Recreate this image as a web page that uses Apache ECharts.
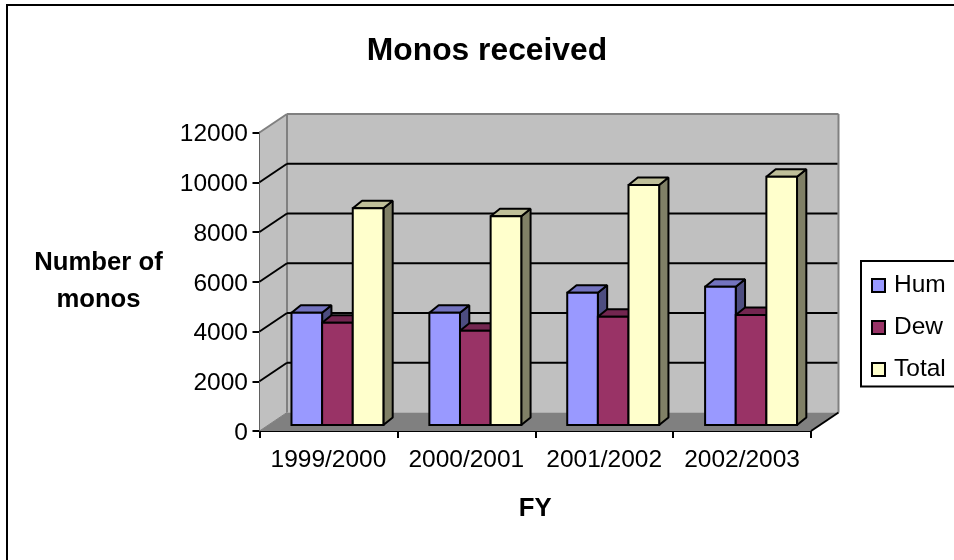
<!DOCTYPE html>
<html>
<head>
<meta charset="utf-8">
<style>html,body{margin:0;padding:0;background:#fff}#c{width:954px;height:560px}</style>
<script src="https://cdn.jsdelivr.net/npm/echarts@6/dist/echarts.min.js"></script>
</head>
<body>
<div id="c"></div>
<script>
const categories = ['1999/2000', '2000/2001', '2001/2002', '2002/2003'];
const hum = [4510, 4510, 5320, 5560];
const dew = [4110, 3790, 4350, 4420];
const total = [8710, 8390, 9650, 9980];
const gridValues = [2000, 4000, 6000, 8000, 10000];
const axisMax = 12000;

const FONT = '"Liberation Sans", Arial, sans-serif';
const WALL = [27.5, -18.5], BASE = [9, -6], DEPTH = [9.3, -7.5];

function wallItem(params, api) {
  const bw = api.size([1, 0], [0, 0])[0];
  const c0 = api.coord([0, 0]), cT = api.coord([0, axisMax]);
  const xl = c0[0] - bw / 2, xr = xl + bw * categories.length, y0 = c0[1], yT = cT[1];
  const dx = WALL[0], dy = WALL[1];
  const poly = (pts, fill, stroke, lw) => ({type: 'polygon', shape: {points: pts},
    style: {fill: fill, stroke: stroke || null, lineWidth: lw || 0}});
  const line = (a, b, col, lw) => ({type: 'line', shape: {x1: a[0], y1: a[1], x2: b[0], y2: b[1]},
    style: {stroke: col, lineWidth: lw}});
  return {type: 'group', children: [
    poly([[xl + dx, yT + dy], [xr + dx, yT + dy], [xr + dx, y0 + dy], [xl + dx, y0 + dy]], '#C0C0C0'),
    poly([[xl, yT], [xl + dx, yT + dy], [xl + dx, y0 + dy], [xl, y0]], '#C0C0C0'),
    poly([[xl, y0], [xr, y0], [xr + dx, y0 + dy], [xl + dx, y0 + dy]], '#808080'),
    line([xl, yT], [xl + dx, yT + dy], '#808080', 2),
    line([xl + dx, yT + dy], [xr + dx, yT + dy], '#808080', 2),
    line([xl + dx, yT + dy], [xl + dx, y0 + dy], '#808080', 2),
    line([xr + dx, yT + dy], [xr + dx, y0 + dy], '#808080', 2),
    line([xl, y0], [xl + dx, y0 + dy], '#808080', 1),
    line([xr, y0], [xr + dx, y0 + dy], '#000', 2)
  ]};
}
function gridItem(params, api) {
  const bw = api.size([1, 0], [0, 0])[0];
  const c = api.coord([0, api.value(1)]);
  const xl = c[0] - bw / 2, xr = xl + bw * categories.length, y = c[1];
  const ln = (x1, y1, x2, y2) => ({type: 'line', shape: {x1, y1, x2, y2}, style: {stroke: '#000', lineWidth: 2}});
  return {type: 'group', children: [
    ln(xl, y, xl + WALL[0], y + WALL[1]),
    ln(xl + WALL[0], y + WALL[1], xr + WALL[0] - 1, y + WALL[1])
  ]};
}
function barItem(slot, colors) {
  return function (params, api) {
    const idx = api.value(0), v = api.value(1);
    const bw = api.size([1, 0], [idx, v])[0], w = bw / 4.5;
    const c = api.coord([idx, 0]), t = api.coord([idx, v]);
    const x = c[0] + BASE[0] + (slot - 1.5) * w, y0 = c[1] + BASE[1], y1 = t[1] + BASE[1];
    const dx = DEPTH[0], dy = DEPTH[1];
    const st = (f, join) => ({fill: f, stroke: '#000', lineWidth: 2, lineJoin: join});
    return {type: 'group', children: [
      {type: 'polygon', shape: {points: [[x + w, y1], [x + w + dx, y1 + dy], [x + w + dx, y0 + dy], [x + w, y0]]}, style: st(colors[2], 'bevel')},
      {type: 'polygon', shape: {points: [[x, y1], [x + dx, y1 + dy], [x + w + dx, y1 + dy], [x + w, y1]]}, style: st(colors[1], 'bevel')},
      {type: 'polygon', shape: {points: [[x, y1], [x + w, y1], [x + w, y0], [x, y0]]}, style: st(colors[0], 'miter')}
    ]};
  };
}
const barSeries = (name, values, slot, colors) => ({
  name: name, type: 'custom', coordinateSystem: 'cartesian2d', clip: false, z: 5,
  renderItem: barItem(slot, colors), itemStyle: {color: colors[0]},
  encode: {x: 0, y: 1}, data: values.map((v, i) => [i, v])
});
const legendItem = (name, color) => ({name: name, icon: 'rect',
  itemStyle: {color: color, borderColor: '#000', borderWidth: 2}});
const edge = (x1, y1, x2, y2) => ({type: 'line', silent: true, z: 10,
  shape: {x1, y1, x2, y2}, style: {stroke: '#000', lineWidth: 2}});

const chart = echarts.init(document.getElementById('c'), null, {renderer: 'canvas'});
chart.setOption({
  animation: false,
  backgroundColor: '#fff',
  textStyle: {fontFamily: FONT, color: '#000'},
  title: {text: 'Monos received', left: 482, top: 30, textAlign: 'center',
    textStyle: {fontFamily: FONT, fontWeight: 'bold', fontSize: 31.8, color: '#000'}},
  grid: {left: 259.5, top: 132.5, width: 551.5, height: 298.5, containLabel: false},
  xAxis: {type: 'category', data: categories, boundaryGap: true,
    name: 'FY', nameLocation: 'middle', nameGap: 78,
    nameTextStyle: {fontFamily: FONT, fontWeight: 'bold', fontSize: 25.7, color: '#000', verticalAlign: 'middle'},
    axisLine: {lineStyle: {color: '#000', width: 2}},
    axisTick: {show: true, alignWithLabel: false, length: 7, lineStyle: {color: '#000', width: 2}},
    axisLabel: {show: true, interval: 0, margin: 17, fontFamily: FONT, fontSize: 24.5, color: '#000'},
    splitLine: {show: false}},
  yAxis: {type: 'value', min: 0, max: axisMax, interval: 2000,
    name: 'Number of\nmonos', nameLocation: 'middle', nameRotate: 0, nameGap: 161,
    nameTextStyle: {fontFamily: FONT, fontWeight: 'bold', fontSize: 25.7, lineHeight: 37, color: '#000', align: 'center', verticalAlign: 'middle', padding: [4, 0, 0, 0]},
    axisLine: {show: true, lineStyle: {color: '#000', width: 2}},
    axisTick: {show: true, length: 7, lineStyle: {color: '#000', width: 2}},
    axisLabel: {margin: 11.5, fontFamily: FONT, fontSize: 24.5, color: '#000',
      formatter: v => '{n|' + v + '}',
      rich: {n: {fontFamily: FONT, fontSize: 24.5, color: '#000', padding: [4, 0, 0, 0]}}},
    splitLine: {show: false}},
  legend: {orient: 'vertical', left: 871, top: 273, padding: 0, itemWidth: 13, itemHeight: 13, itemGap: 17,
    textStyle: {fontFamily: FONT, fontSize: 24.5, color: '#000', padding: [0, 0, 0, 4]},
    data: [legendItem('Hum', '#9999FF'), legendItem('Dew', '#993366'), legendItem('Total', '#FFFFCC')]},
  tooltip: {show: false},
  graphic: {elements: [
    edge(7, 5, 7, 560), edge(6, 5, 954, 5),
    edge(861, 261, 954, 261), edge(861, 260, 861, 387), edge(860, 386.5, 954, 386.5)
  ]},
  series: [
    {type: 'custom', name: 'walls', clip: false, z: 1, renderItem: wallItem, encode: {x: 0, y: 1}, data: [[0, 0]]},
    {type: 'custom', name: 'grid', clip: false, z: 2, renderItem: gridItem, encode: {x: 0, y: 1}, data: gridValues.map(v => [0, v])},
    barSeries('Hum', hum, 0, ['#9999FF', '#7373BF', '#4D4D80']),
    barSeries('Dew', dew, 1, ['#993366', '#732650', '#4D1A33']),
    barSeries('Total', total, 2, ['#FFFFCC', '#BFBF99', '#808066'])
  ]
});
</script>
</body>
</html>
